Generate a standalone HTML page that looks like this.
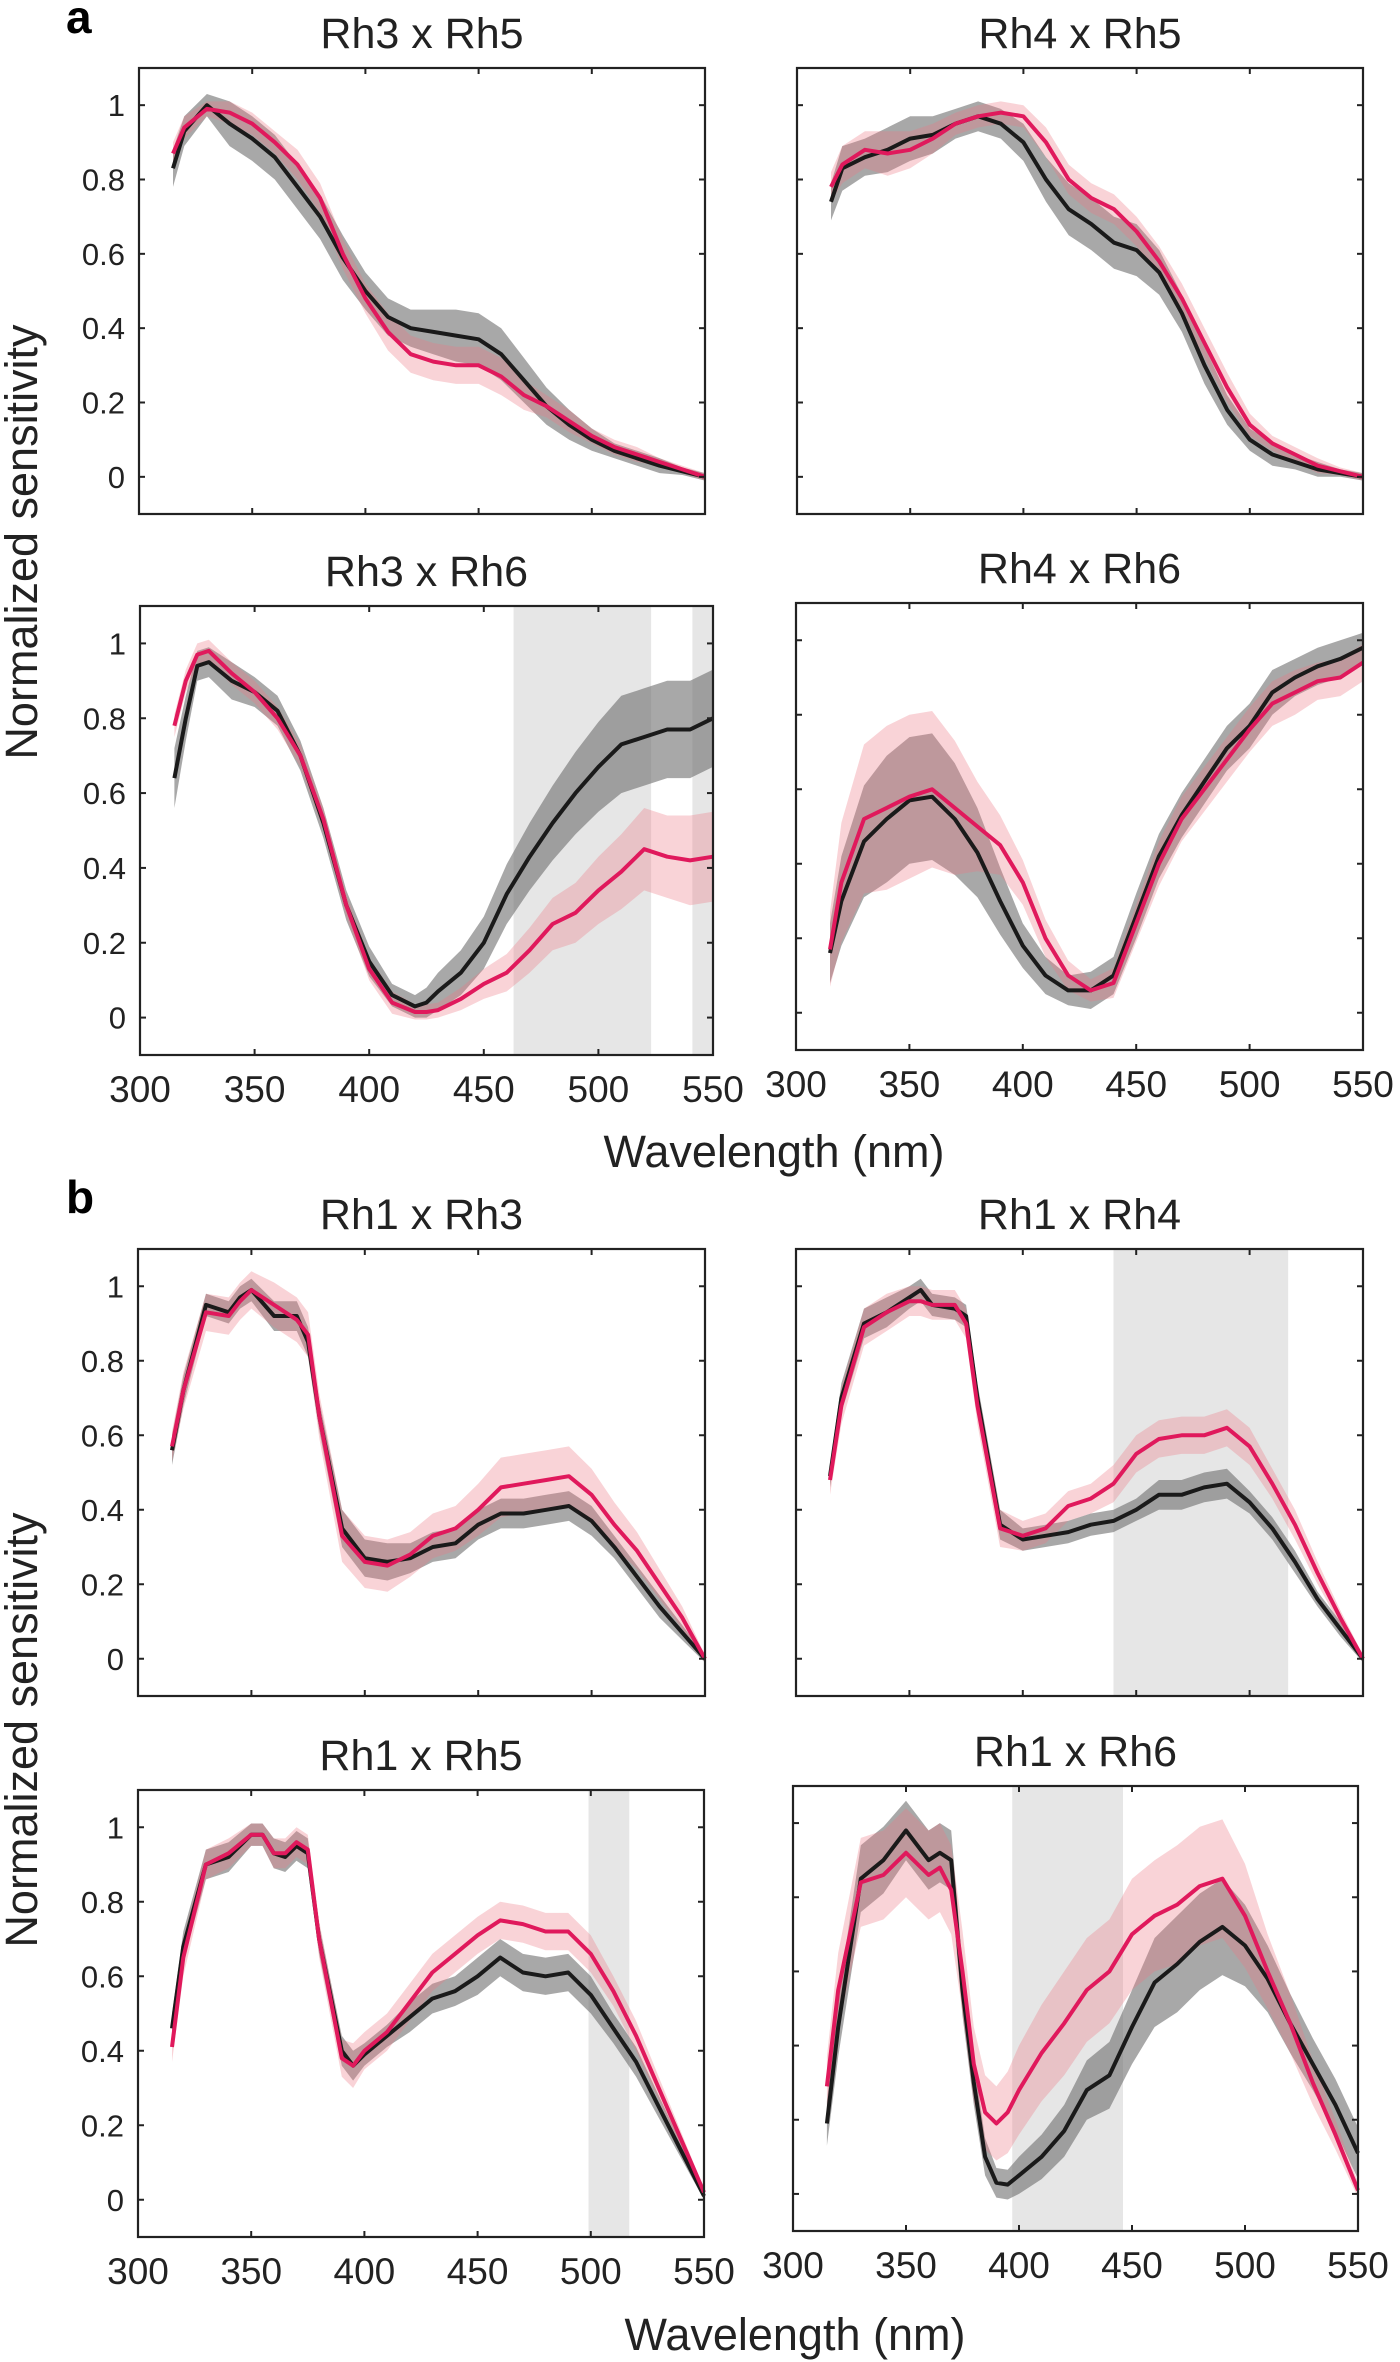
<!DOCTYPE html>
<html><head><meta charset="utf-8">
<style>
html,body{margin:0;padding:0;background:#fff;}
svg{display:block;font-family:"Liberation Sans",Arial,sans-serif;}
</style></head>
<body>
<svg id="fig" width="1400" height="2362" viewBox="0 0 1400 2362" xmlns="http://www.w3.org/2000/svg">
<text x="66" y="33" font-size="46" font-weight="bold">a</text>
<text x="66" y="1213" font-size="46" font-weight="bold">b</text>
<text transform="translate(37,542) rotate(-90)" text-anchor="middle" font-size="45" fill="#222">Normalized sensitivity</text>
<text transform="translate(37,1730) rotate(-90)" text-anchor="middle" font-size="45" fill="#222">Normalized sensitivity</text>
<text x="774" y="1167" text-anchor="middle" font-size="45" fill="#222">Wavelength (nm)</text>
<text x="795" y="2350" text-anchor="middle" font-size="45" fill="#222">Wavelength (nm)</text>
</svg>
<script>
const xTicks=[300,350,400,450,500,550];
const yTicks=[0,0.2,0.4,0.6,0.8,1];
const yTickLabels=["0","0.2","0.4","0.6","0.8","1"];
const titles=["Rh3 x Rh5","Rh4 x Rh5","Rh3 x Rh6","Rh4 x Rh6","Rh1 x Rh3","Rh1 x Rh4","Rh1 x Rh5","Rh1 x Rh6"];

const wl1=[315,320,330,340,350,360,370,380,390,400,410,420,430,440,450,460,470,480,490,500,510,520,530,540,550];
const black1=[.83,.93,1.0,.95,.91,.86,.78,.70,.59,.50,.43,.40,.39,.38,.37,.33,.26,.19,.14,.10,.07,.05,.03,.015,0];
const blackErr1=[.05,.04,.03,.06,.06,.06,.06,.06,.06,.05,.05,.05,.06,.07,.07,.07,.06,.05,.04,.03,.02,.02,.02,.01,.01];
const red1=[.87,.94,.99,.98,.95,.90,.84,.75,.60,.48,.39,.33,.31,.30,.30,.27,.22,.19,.15,.11,.08,.06,.04,.02,0];
const redErr1=[.03,.03,.02,.03,.03,.03,.04,.04,.04,.04,.05,.05,.05,.05,.05,.05,.04,.03,.03,.02,.02,.02,.01,.01,.01];

const wl2=[315,320,330,340,350,360,370,380,390,400,410,420,430,440,450,460,470,480,490,500,510,520,530,540,550];
const black2=[.74,.83,.86,.88,.91,.92,.95,.97,.95,.90,.80,.72,.68,.63,.61,.55,.44,.30,.18,.10,.06,.04,.02,.01,0];
const blackErr2=[.05,.06,.05,.06,.06,.05,.04,.04,.04,.05,.06,.07,.07,.07,.07,.06,.05,.05,.04,.03,.03,.02,.02,.01,.01];
const red2=[.78,.84,.88,.87,.88,.91,.95,.97,.98,.97,.90,.80,.75,.72,.66,.58,.48,.36,.24,.14,.09,.06,.03,.015,0];
const redErr2=[.04,.05,.05,.06,.05,.04,.03,.03,.03,.03,.04,.04,.04,.04,.04,.04,.04,.04,.04,.03,.02,.02,.02,.01,.01];

const wl3=[315,320,325,330,340,350,360,370,380,390,400,410,420,425,430,440,450,460,470,480,490,500,510,520,530,540,550];
const black3=[.64,.80,.94,.95,.90,.87,.82,.70,.52,.30,.15,.06,.03,.04,.07,.12,.20,.33,.43,.52,.60,.67,.73,.75,.77,.77,.80];
const blackErr3=[.08,.06,.04,.04,.05,.04,.04,.04,.04,.04,.04,.03,.03,.04,.05,.06,.07,.08,.09,.10,.11,.12,.13,.13,.13,.13,.13];
const red3=[.78,.90,.97,.98,.92,.87,.80,.70,.53,.30,.13,.04,.015,.015,.02,.05,.09,.12,.18,.25,.28,.34,.39,.45,.43,.42,.43];
const redErr3=[.03,.03,.03,.03,.03,.03,.03,.03,.03,.03,.03,.03,.02,.02,.02,.03,.04,.05,.06,.07,.08,.09,.10,.11,.11,.12,.12];

const wl4=[315,320,330,340,350,360,370,380,390,400,410,420,430,440,450,460,470,480,490,500,510,520,530,540,550];
const black4=[.16,.30,.46,.52,.57,.58,.52,.43,.30,.18,.10,.06,.06,.10,.26,.42,.53,.62,.71,.77,.86,.90,.93,.95,.98];
const blackErr4=[.08,.12,.15,.17,.17,.17,.15,.12,.09,.06,.05,.04,.05,.05,.06,.06,.06,.06,.06,.06,.06,.05,.05,.05,.04];
const red4=[.17,.35,.52,.55,.58,.60,.55,.50,.45,.35,.20,.10,.06,.08,.24,.40,.52,.60,.68,.76,.83,.86,.89,.90,.94];
const redErr4=[.10,.16,.20,.22,.22,.21,.18,.12,.08,.06,.05,.04,.03,.04,.05,.06,.06,.06,.06,.06,.06,.06,.05,.05,.05];

const wl5=[315,320,330,340,345,350,360,370,375,380,390,400,410,420,430,440,450,460,470,480,490,500,510,520,530,540,550];
const black5=[.56,.72,.95,.93,.97,.99,.92,.92,.85,.65,.35,.27,.26,.27,.30,.31,.36,.39,.39,.40,.41,.37,.30,.22,.14,.07,0];
const blackErr5=[.04,.04,.03,.03,.03,.03,.04,.04,.04,.04,.05,.05,.05,.04,.04,.04,.04,.04,.04,.04,.04,.04,.03,.03,.03,.02,.01];
const red5=[.57,.72,.93,.92,.96,.99,.95,.91,.87,.65,.33,.26,.25,.28,.33,.35,.40,.46,.47,.48,.49,.44,.36,.29,.20,.11,0];
const redErr5=[.04,.05,.05,.05,.05,.05,.06,.06,.06,.06,.07,.07,.07,.06,.06,.06,.07,.08,.08,.08,.08,.07,.06,.05,.04,.03,.01];

const wl6=[315,320,330,340,350,355,360,370,375,380,390,400,410,420,430,440,450,460,470,480,490,500,510,520,530,540,550];
const black6=[.49,.70,.90,.93,.97,.99,.95,.94,.92,.70,.36,.32,.33,.34,.36,.37,.40,.44,.44,.46,.47,.42,.35,.26,.16,.08,0];
const blackErr6=[.03,.04,.04,.04,.03,.03,.03,.03,.03,.04,.04,.03,.03,.03,.03,.03,.03,.04,.04,.04,.04,.03,.03,.03,.02,.02,.01];
const red6=[.48,.68,.89,.93,.96,.96,.95,.95,.90,.68,.35,.33,.35,.41,.43,.47,.55,.59,.60,.60,.62,.57,.47,.36,.23,.11,0];
const redErr6=[.04,.05,.05,.05,.04,.04,.04,.04,.04,.05,.05,.04,.04,.04,.04,.05,.05,.05,.05,.05,.05,.05,.04,.04,.03,.02,.01];

const wl7=[315,320,330,340,350,355,360,365,370,375,380,390,395,400,410,420,430,440,450,460,470,480,490,500,510,520,530,540,550];
const black7=[.46,.68,.90,.92,.98,.98,.93,.92,.95,.93,.70,.40,.36,.39,.44,.49,.54,.56,.60,.65,.61,.60,.61,.55,.46,.37,.25,.13,.01];
const blackErr7=[.04,.04,.04,.04,.03,.03,.04,.04,.04,.04,.04,.04,.04,.03,.03,.04,.04,.04,.05,.05,.05,.05,.05,.05,.04,.04,.03,.02,.01];
const red7=[.41,.65,.90,.93,.98,.98,.93,.93,.96,.94,.70,.38,.36,.40,.45,.53,.61,.66,.71,.75,.74,.72,.72,.66,.56,.44,.30,.16,.02];
const redErr7=[.04,.05,.04,.04,.03,.03,.04,.04,.04,.04,.05,.05,.06,.05,.05,.05,.05,.05,.05,.05,.05,.05,.05,.05,.04,.04,.03,.02,.01];

const wl8=[315,320,330,340,350,360,365,370,375,380,385,390,395,400,410,420,430,440,450,460,470,480,490,500,510,520,530,540,550];
const black8=[.19,.45,.85,.90,.98,.90,.92,.90,.55,.30,.10,.03,.025,.05,.10,.17,.28,.32,.45,.57,.62,.68,.72,.67,.58,.46,.35,.24,.11];
const blackErr8=[.06,.08,.09,.09,.08,.08,.08,.08,.07,.06,.05,.04,.04,.05,.06,.07,.08,.09,.10,.12,.13,.13,.13,.11,.09,.08,.07,.07,.07];
const red8=[.29,.55,.84,.86,.92,.86,.88,.82,.60,.35,.22,.19,.22,.28,.38,.46,.55,.60,.70,.75,.78,.83,.85,.75,.60,.46,.30,.16,.01];
const redErr8=[.08,.10,.12,.12,.12,.12,.12,.12,.11,.10,.10,.10,.11,.12,.13,.14,.14,.14,.15,.15,.16,.16,.16,.14,.10,.08,.06,.04,.02];

const shadeRanges=[[],[],[[463,523],[541,552]],[],[],[[440,517]],[[499,517]],[[397,446]]];

const wls=[wl1,wl2,wl3,wl4,wl5,wl6,wl7,wl8];
const blacks=[black1,black2,black3,black4,black5,black6,black7,black8];
const blackErrs=[blackErr1,blackErr2,blackErr3,blackErr4,blackErr5,blackErr6,blackErr7,blackErr8];
const reds=[red1,red2,red3,red4,red5,red6,red7,red8];
const redErrs=[redErr1,redErr2,redErr3,redErr4,redErr5,redErr6,redErr7,redErr8];

// layout (pixel boxes) - not data
const boxes=[
 {x0:139,x1:705,y0:68,y1:514,yl:true,xl:false},
 {x0:797,x1:1363,y0:68,y1:514,yl:false,xl:false},
 {x0:140,x1:713,y0:606,y1:1055,yl:true,xl:true},
 {x0:796,x1:1363,y0:603,y1:1050,yl:false,xl:true},
 {x0:138,x1:705,y0:1249,y1:1696,yl:true,xl:false},
 {x0:796,x1:1363,y0:1249,y1:1696,yl:false,xl:false},
 {x0:138,x1:704,y0:1790,y1:2237,yl:true,xl:true},
 {x0:793,x1:1358,y0:1786,y1:2231,yl:false,xl:true}
];
const NS="http://www.w3.org/2000/svg";
const svg=document.getElementById('fig');
function mk(tag,attrs,parent){const e=document.createElementNS(NS,tag);for(const k in attrs)e.setAttribute(k,attrs[k]);(parent||svg).appendChild(e);return e;}

boxes.forEach((b,i)=>{
  const sx=v=>b.x0+(v-300)/(550-300)*(b.x1-b.x0);
  const sy=v=>b.y1-(v+0.1)/1.2*(b.y1-b.y0);
  const g=mk('g',{});
  
  
  const cid='clip'+i;
  const cp=mk('clipPath',{id:cid},g);
  mk('rect',{x:b.x0,y:b.y0,width:b.x1-b.x0,height:b.y1-b.y0},cp);
  shadeRanges[i].forEach(r=>{
    const s=mk('rect',{x:sx(r[0]),y:b.y0,width:sx(r[1])-sx(r[0]),height:b.y1-b.y0,fill:'#e6e6e6','clip-path':'url(#'+cid+')'},g);
    
    
  });
  const wl=wls[i];
  function band(vals,errs,fill,name){
    let d='M';
    wl.forEach((w,k)=>{d+=sx(w).toFixed(1)+','+sy(vals[k]+errs[k]).toFixed(1)+' L';});
    for(let k=wl.length-1;k>=0;k--){d+=sx(wl[k]).toFixed(1)+','+sy(vals[k]-errs[k]).toFixed(1)+(k>0?' L':' Z');}
    const p=mk('path',{d:d,fill:fill,'clip-path':'url(#'+cid+')'},g);
    
    
  }
  function line(vals,col,name){
    const pts=wl.map((w,k)=>sx(w).toFixed(1)+','+sy(vals[k]).toFixed(1)).join(' ');
    const p=mk('polyline',{points:pts,fill:'none',stroke:col,'stroke-width':4,'stroke-linejoin':'round'},g);
    
    
  }
  band(blacks[i],blackErrs[i],'rgba(110,110,110,0.6)','black-error-band');
  band(reds[i],redErrs[i],'rgba(236,120,135,0.33)','red-error-band');
  line(blacks[i],'#1a1a1a','black-line');
  line(reds[i],'#e0195c','red-line');
  const fr=mk('rect',{x:b.x0,y:b.y0,width:b.x1-b.x0,height:b.y1-b.y0,fill:'none',stroke:'#222','stroke-width':2.2},g);
  
  
  xTicks.forEach(t=>{
    const x=sx(t);
    mk('line',{x1:x,x2:x,y1:b.y1,y2:b.y1-6,stroke:'#222','stroke-width':2},g);
    mk('line',{x1:x,x2:x,y1:b.y0,y2:b.y0+6,stroke:'#222','stroke-width':2},g);
    if(b.xl){
      const tx=mk('text',{x:x,y:b.y1+47,'text-anchor':'middle','font-size':37,fill:'#222'},g);
      tx.textContent=t;
      
      
    }
  });
  yTicks.forEach((t,k)=>{
    const y=sy(t);
    mk('line',{x1:b.x0,x2:b.x0+6,y1:y,y2:y,stroke:'#222','stroke-width':2},g);
    mk('line',{x1:b.x1,x2:b.x1-6,y1:y,y2:y,stroke:'#222','stroke-width':2},g);
    if(b.yl){
      const ty=mk('text',{x:b.x0-14,y:y+11,'text-anchor':'end','font-size':31,fill:'#222'},g);
      ty.textContent=yTickLabels[k];
      
      
    }
  });
  const tt=mk('text',{x:(b.x0+b.x1)/2,y:b.y0-20,'text-anchor':'middle','font-size':43,fill:'#222'},g);
  tt.textContent=titles[i];
  
  
});
</script>
</body></html>
